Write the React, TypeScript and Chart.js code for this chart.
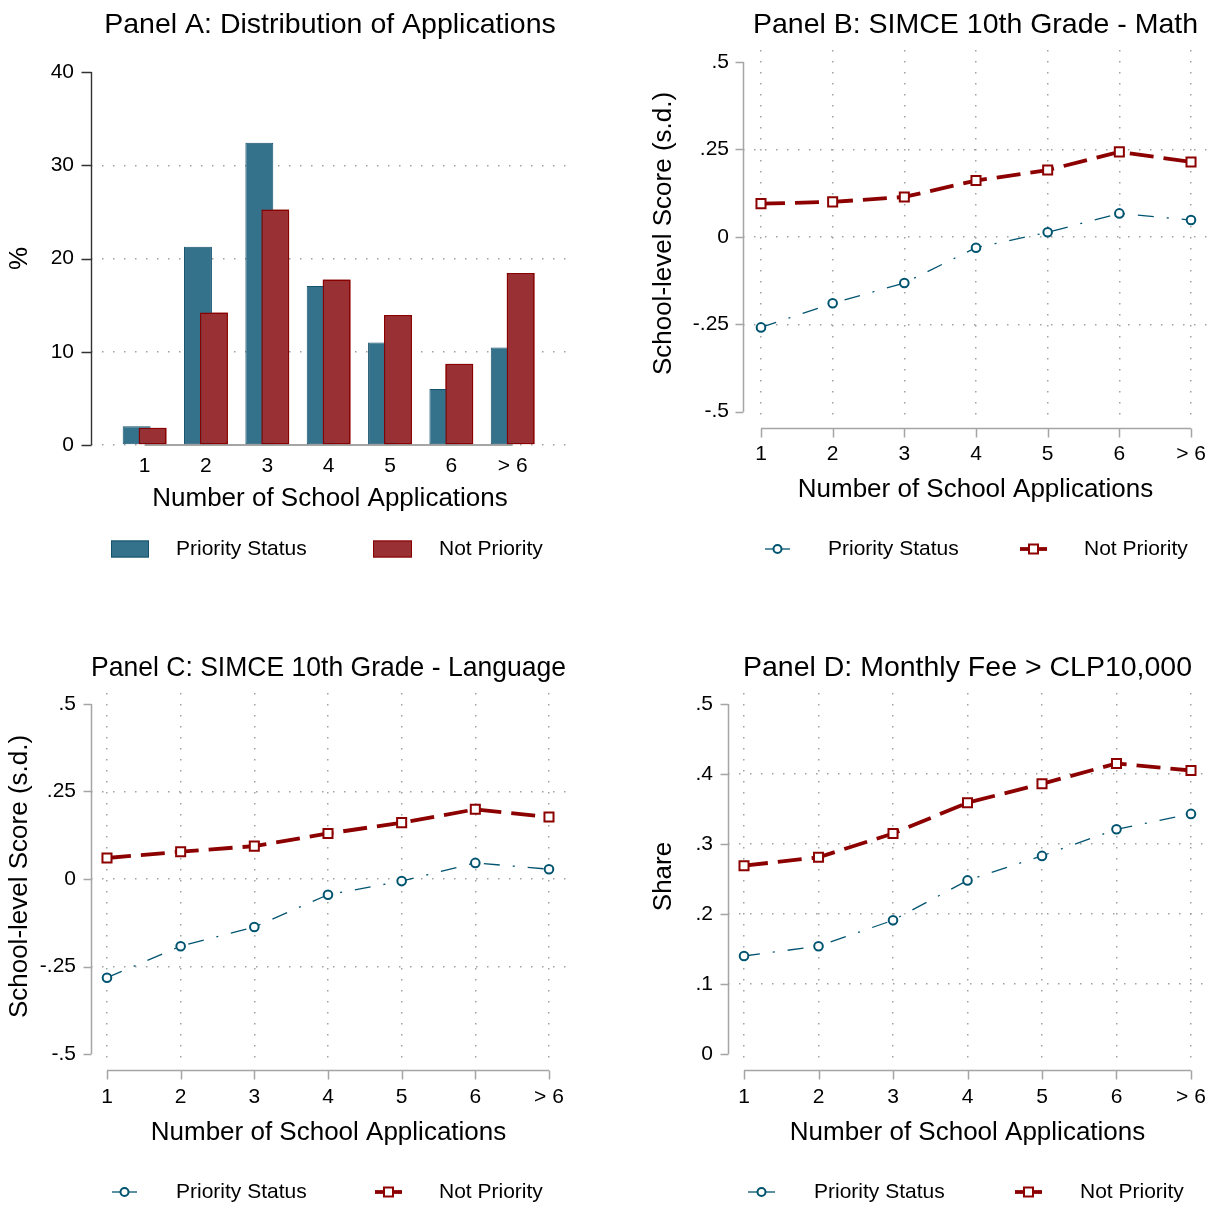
import React, { useEffect, useRef } from 'react';
import { Chart, registerables } from 'chart.js';

Chart.register(...registerables);

const FONT = "'Liberation Sans', Arial, Helvetica, sans-serif";
Chart.defaults.font.family = FONT;
Chart.defaults.color = '#000';

// ---------- data ----------
const categories = ['1', '2', '3', '4', '5', '6', '> 6'];
const seriesLabels = ['Priority Status', 'Not Priority'];

const appsPriority = [2.0, 21.25, 32.4, 17.05, 11.0, 6.0, 10.45];
const appsNotPriority = [1.85, 14.2, 25.25, 17.75, 13.95, 8.7, 18.45];

const mathPriority = [-0.259, -0.19, -0.132, -0.031, 0.013, 0.067, 0.048];
const mathNotPriority = [0.095, 0.1, 0.114, 0.161, 0.191, 0.243, 0.214];

const langPriority = [-0.282, -0.192, -0.137, -0.045, -0.006, 0.046, 0.028];
const langNotPriority = [0.06, 0.078, 0.094, 0.13, 0.161, 0.199, 0.177];

const feePriority = [0.14, 0.154, 0.191, 0.248, 0.283, 0.321, 0.343];
const feeNotPriority = [0.269, 0.281, 0.315, 0.359, 0.386, 0.415, 0.405];

const pctTicks = [0, 10, 20, 30, 40];
const scoreTicks = [-0.5, -0.25, 0, 0.25, 0.5];
const shareTicks = [0, 0.1, 0.2, 0.3, 0.4, 0.5];

// ---------- styles ----------
const BAR_BLUE = 'rgb(52,113,138)';
const BAR_BLUE_EDGE = 'rgb(20,82,108)';
const BAR_RED = 'rgb(153,49,52)';
const BAR_RED_EDGE = 'rgb(136,0,0)';
const LINE_BLUE = 'rgb(0,84,112)';
const LINE_RED = 'rgb(140,0,0)';
const GRID = 'rgba(150,150,150,0.9)';
const AXIS_GRAY = 'rgb(165,165,165)';
const GRID_DASH = [1.5, 9.5];

const fmtDec = (v: number) =>
  v === 0 ? '0' : (v < 0 ? '-' : '') + String(Math.abs(v)).replace(/^0/, '');

const stataPlugin = {
  id: 'stata',
  beforeDatasetsDraw(chart: any, _a: any, opts: any) {
    if (!opts || !opts.baseline) return;
    const { ctx } = chart;
    const x = chart.scales.x;
    const y = chart.scales.y;
    const py = y.getPixelForValue(0);
    ctx.save();
    ctx.strokeStyle = AXIS_GRAY;
    ctx.lineWidth = 2;
    ctx.beginPath();
    ctx.moveTo(x.getPixelForValue(1), py);
    ctx.lineTo(x.getPixelForValue(categories.length), py);
    ctx.stroke();
    ctx.restore();
  },
  afterDatasetsDraw(chart: any, _a: any, opts: any) {
    if (opts && opts.redrawOnTop != null) {
      chart.getDatasetMeta(opts.redrawOnTop).controller.draw();
    }
  },
  afterDraw(chart: any, _a: any, opts: any) {
    if (!opts) return;
    const { ctx, chartArea } = chart;
    const x = chart.scales.x;
    const y = chart.scales.y;
    const ax = opts.axis;
    ctx.save();
    // y axis line + ticks
    const yt: number[] = ax.yTicks;
    const yTop = y.getPixelForValue(yt[yt.length - 1]);
    const yBot = y.getPixelForValue(yt[0]);
    const lx = Math.round(chartArea.left) + 0.5;
    ctx.strokeStyle = ax.color;
    ctx.lineWidth = ax.width;
    ctx.setLineDash([]);
    ctx.beginPath();
    ctx.moveTo(lx, yTop);
    ctx.lineTo(lx, yBot);
    yt.forEach((v) => {
      const py = Math.round(y.getPixelForValue(v)) + 0.5;
      ctx.moveTo(lx - ax.tickLen, py);
      ctx.lineTo(lx, py);
    });
    ctx.stroke();
    // x axis line + ticks (Stata style, detached below plot region)
    if (ax.xOffset != null) {
      const ay = Math.round(chartArea.bottom + ax.xOffset) + 0.5;
      ctx.beginPath();
      ctx.moveTo(x.getPixelForValue(1), ay);
      ctx.lineTo(x.getPixelForValue(categories.length), ay);
      categories.forEach((_c, i) => {
        const px = Math.round(x.getPixelForValue(i + 1)) + 0.5;
        ctx.moveTo(px, ay);
        ctx.lineTo(px, ay + ax.xTickLen);
      });
      ctx.stroke();
    }
    // legend
    const lg = opts.legend;
    ctx.font = `21px ${FONT}`;
    ctx.textBaseline = 'middle';
    ctx.textAlign = 'left';
    lg.items.forEach((it: any) => {
      if (it.kind === 'bar') {
        ctx.fillStyle = it.fill;
        ctx.fillRect(it.x0, lg.y - 8.5, it.x1 - it.x0, 17);
        ctx.strokeStyle = it.edge;
        ctx.lineWidth = 1;
        ctx.strokeRect(it.x0 + 0.5, lg.y - 8, it.x1 - it.x0 - 1, 16);
      } else {
        ctx.strokeStyle = it.color;
        ctx.lineWidth = it.width;
        ctx.beginPath();
        ctx.moveTo(it.x0, lg.y);
        ctx.lineTo(it.x1, lg.y);
        ctx.stroke();
        const mx = (it.x0 + it.x1) / 2;
        ctx.lineWidth = 2;
        ctx.fillStyle = '#fff';
        ctx.beginPath();
        if (it.marker === 'circle') {
          ctx.arc(mx, lg.y, 4, 0, Math.PI * 2);
        } else {
          ctx.rect(mx - 4.5, lg.y - 4.5, 9, 9);
        }
        ctx.fill();
        ctx.stroke();
      }
      ctx.fillStyle = '#000';
      ctx.fillText(it.label, it.tx, lg.y);
    });
    ctx.restore();
  },
};

const tickFont = { size: 21 };
const axisTitleFont = { size: 26 };
const titleFont = { size: 28.5, weight: 'normal' as const };

function toPoints(vals: number[]) {
  return vals.map((v, i) => ({ x: i + 1, y: v }));
}

function fixX(height: number) {
  return (s: any) => {
    s.height = height;
    s.paddingLeft = 0;
    s.paddingRight = 0;
  };
}

function barPanelConfig(): any {
  return {
    type: 'bar',
    data: {
      datasets: [
        {
          label: seriesLabels[0],
          data: toPoints(appsPriority),
          backgroundColor: BAR_BLUE,
          borderColor: BAR_BLUE_EDGE,
          borderWidth: 1,
          borderSkipped: false,
          categoryPercentage: 0.52,
          barPercentage: 1.75,
        },
        {
          label: seriesLabels[1],
          data: toPoints(appsNotPriority),
          backgroundColor: BAR_RED,
          borderColor: BAR_RED_EDGE,
          borderWidth: 1.5,
          borderSkipped: false,
          categoryPercentage: 0.52,
          barPercentage: 1.75,
        },
      ],
    },
    plugins: [stataPlugin],
    options: {
      responsive: false,
      animation: false,
      events: [],
      layout: { autoPadding: false, padding: { left: 0, right: 35, top: 0, bottom: 77 } },
      plugins: {
        legend: { display: false },
        tooltip: { enabled: false },
        title: {
          display: true,
          text: 'Panel A: Distribution of Applications',
          fullSize: false,
          font: titleFont,
          color: '#000',
          padding: { top: 8.5, bottom: 29.3 },
        },
        stata: {
          baseline: true,
          redrawOnTop: 1,
          axis: { yTicks: pctTicks, color: 'rgb(50,50,50)', width: 1.4, tickLen: 10, xOffset: null },
          legend: {
            y: 549,
            items: [
              { kind: 'bar', label: seriesLabels[0], fill: BAR_BLUE, edge: BAR_BLUE_EDGE, x0: 111, x1: 149, tx: 176 },
              { kind: 'bar', label: seriesLabels[1], fill: BAR_RED, edge: BAR_RED_EDGE, x0: 373, x1: 412, tx: 439 },
            ],
          },
        },
      },
      scales: {
        x: {
          type: 'linear',
          offset: false,
          min: 0.126,
          max: 7.918,
          afterBuildTicks: (s: any) => {
            s.ticks = categories.map((_c, i) => ({ value: i + 1 }));
          },
          afterFit: fixX(80),
          ticks: {
            callback: (v: number) => categories[v - 1],
            font: tickFont,
            color: '#000',
            padding: 9,
            autoSkip: false,
            maxRotation: 0,
          },
          grid: { display: false, offset: false, drawTicks: false },
          border: { display: false },
          title: {
            display: true,
            text: 'Number of School Applications',
            font: axisTitleFont,
            color: '#000',
            padding: { top: 0, bottom: 10.4 },
          },
        },
        y: {
          type: 'linear',
          min: 0,
          max: 40,
          afterBuildTicks: (s: any) => {
            s.ticks = pctTicks.map((v) => ({ value: v }));
          },
          afterFit: (s: any) => {
            s.width = 91;
          },
          ticks: { font: tickFont, color: '#000', padding: 17, callback: (v: number) => String(v) },
          grid: {
            drawTicks: false,
            lineWidth: 1.5,
            color: (c: any) => (c.tick && c.tick.value === pctTicks[pctTicks.length - 1] ? 'rgba(0,0,0,0)' : GRID),
          },
          border: { display: false, dash: GRID_DASH },
          title: {
            display: true,
            text: '%',
            font: axisTitleFont,
            color: '#000',
            padding: { top: 4.4, bottom: 0 },
          },
        },
      },
    },
  };
}

function linePanelConfig(o: any): any {
  const yt: number[] = o.yTicks;
  return {
    type: 'line',
    data: {
      datasets: [
        {
          label: seriesLabels[0],
          data: toPoints(o.blue),
          borderColor: LINE_BLUE,
          borderWidth: 1.3,
          borderDash: [16, 13, 2, 13],
          pointStyle: 'circle',
          pointRadius: 4.3,
          pointBorderWidth: 2,
          pointBorderColor: LINE_BLUE,
          pointBackgroundColor: '#fff',
          fill: false,
          tension: 0,
        },
        {
          label: seriesLabels[1],
          data: toPoints(o.red),
          borderColor: LINE_RED,
          borderWidth: 3.8,
          borderDash: [24, 10],
          pointStyle: 'rect',
          pointRadius: 6.4,
          pointBorderWidth: 2,
          pointBorderColor: LINE_RED,
          pointBackgroundColor: '#fff',
          fill: false,
          tension: 0,
        },
      ],
    },
    plugins: [stataPlugin],
    options: {
      responsive: false,
      animation: false,
      events: [],
      layout: { autoPadding: false, padding: { left: 0, right: o.padRight, top: 0, bottom: o.padBottom } },
      plugins: {
        legend: { display: false },
        tooltip: { enabled: false },
        title: {
          display: true,
          text: o.title,
          fullSize: false,
          font: titleFont,
          color: '#000',
          padding: { top: o.titleTop, bottom: 50 - 34.2 - 6.9 - 1.5 },
        },
        stata: {
          axis: { yTicks: yt, color: AXIS_GRAY, width: 1.5, tickLen: 8, xOffset: o.xOffset, xTickLen: 9 },
          legend: {
            y: o.legendY,
            items: [
              { kind: 'line', marker: 'circle', label: seriesLabels[0], color: LINE_BLUE, width: 1.3, x0: o.leg[0], x1: o.leg[1], tx: o.leg[2] },
              { kind: 'line', marker: 'square', label: seriesLabels[1], color: LINE_RED, width: 3.8, x0: o.leg[3], x1: o.leg[4], tx: o.leg[5] },
            ],
          },
        },
      },
      scales: {
        x: {
          type: 'linear',
          offset: false,
          min: o.xMin,
          max: o.xMax,
          afterBuildTicks: (s: any) => {
            s.ticks = categories.map((_c, i) => ({ value: i + 1 }));
          },
          afterFit: fixX(100),
          ticks: {
            callback: (v: number) => categories[v - 1],
            font: tickFont,
            color: '#000',
            padding: 24.4,
            autoSkip: false,
            maxRotation: 0,
          },
          grid: { display: true, offset: false, drawTicks: false, color: GRID, lineWidth: 1.5 },
          border: { display: false, dash: GRID_DASH },
          title: {
            display: true,
            text: 'Number of School Applications',
            font: axisTitleFont,
            color: '#000',
            padding: { top: 0, bottom: 11.9 },
          },
        },
        y: {
          type: 'linear',
          min: o.yMin,
          max: o.yMax,
          afterBuildTicks: (s: any) => {
            s.ticks = yt.map((v) => ({ value: v }));
          },
          afterFit: (s: any) => {
            s.width = o.yWidth;
          },
          ticks: { font: tickFont, color: '#000', padding: o.yPad, callback: (v: number) => fmtDec(v) },
          grid: {
            drawTicks: false,
            lineWidth: 1.5,
            color: (c: any) =>
              c.tick && (c.tick.value === yt[0] || c.tick.value === yt[yt.length - 1]) ? 'rgba(0,0,0,0)' : GRID,
          },
          border: { display: false, dash: GRID_DASH },
          title: {
            display: true,
            text: o.yTitle,
            font: axisTitleFont,
            color: '#000',
            padding: { top: o.yTitleTop, bottom: 0 },
          },
        },
      },
    },
  };
}

function Panel({ cfg, left, top, w, h }: { cfg: any; left: number; top: number; w: number; h: number }) {
  const ref = useRef<HTMLCanvasElement | null>(null);
  useEffect(() => {
    if (!ref.current) return;
    const chart = new Chart(ref.current, cfg());
    return () => chart.destroy();
  }, []);
  return (
    <div style={{ position: 'absolute', left, top, width: w, height: h }}>
      <canvas ref={ref} width={w} height={h} style={{ width: w, height: h, display: 'block' }} />
    </div>
  );
}

const panelB = () =>
  linePanelConfig({
    title: 'Panel B: SIMCE 10th Grade - Math',
    blue: mathPriority,
    red: mathNotPriority,
    yTicks: scoreTicks,
    yMin: -0.5152,
    yMax: 0.5343,
    xMin: 0.749,
    xMax: 7.237,
    yWidth: 139,
    yPad: 14,
    yTitle: 'School-level Score (s.d.)',
    yTitleTop: 44,
    padRight: 1,
    padBottom: 85,
    titleTop: 8.4,
    xOffset: 11,
    legendY: 549,
    leg: [161, 186, 224, 416, 443, 480],
  });

const panelC = () =>
  linePanelConfig({
    title: 'Panel C: SIMCE 10th Grade - Language',
    blue: langPriority,
    red: langNotPriority,
    yTicks: scoreTicks,
    yMin: -0.5171,
    yMax: 0.5314,
    xMin: 0.783,
    xMax: 7.231,
    yWidth: 91,
    yPad: 15,
    yTitle: 'School-level Score (s.d.)',
    yTitleTop: 4.4,
    padRight: 38,
    padBottom: 45,
    titleTop: 49.4,
    xOffset: 10,
    legendY: 590,
    leg: [112, 137, 176, 375, 402, 439],
  });

const panelD = () =>
  linePanelConfig({
    title: 'Panel D: Monthly Fee > CLP10,000',
    blue: feePriority,
    red: feeNotPriority,
    yTicks: shareTicks,
    yMin: -0.0086,
    yMax: 0.5157,
    xMin: 0.785,
    xMax: 7.215,
    yWidth: 124,
    yPad: 15,
    yTitle: 'Share',
    yTitleTop: 44,
    padRight: 2,
    padBottom: 45,
    titleTop: 49.4,
    xOffset: 10,
    legendY: 590,
    leg: [144, 171, 210, 411, 438, 476],
  });

export default function App() {
  return (
    <div style={{ position: 'absolute', left: 0, top: 0, width: 1209, height: 1205, background: '#fff', overflow: 'hidden' }}>
      <Panel cfg={barPanelConfig} left={0} top={0} w={604} h={602} />
      <Panel cfg={panelB} left={604} top={0} w={605} h={602} />
      <Panel cfg={panelC} left={0} top={602} w={604} h={603} />
      <Panel cfg={panelD} left={604} top={602} w={605} h={603} />
    </div>
  );
}
